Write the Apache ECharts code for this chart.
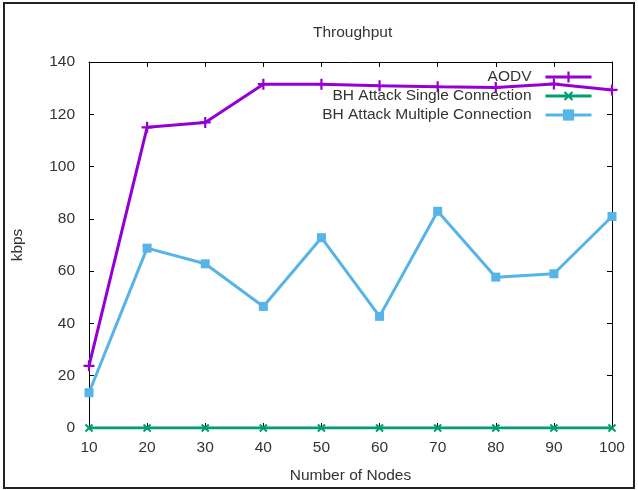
<!DOCTYPE html>
<html><head><meta charset="utf-8">
<script src="https://cdn.jsdelivr.net/npm/echarts@6/dist/echarts.min.js"></script>
<style>html,body{margin:0;padding:0;background:#fff}#c{width:638px;height:490px}</style>
</head><body><div id="c"></div>
<script>
const nodes = [10, 20, 30, 40, 50, 60, 70, 80, 90, 100];
const aodv = [23.8, 115, 116.9, 131.5, 131.5, 130.9, 130.5, 130.2, 131.6, 129.3];
const bhSingle = [0, 0, 0, 0, 0, 0, 0, 0, 0, 0];
const bhMultiple = [13.5, 68.8, 62.8, 46.5, 72.8, 42.7, 82.9, 57.7, 59.0, 80.9];
const seriesNames = ['AODV', 'BH Attack Single Connection', 'BH Attack Multiple Connection'];

const pair = arr => nodes.map((x, i) => [x, arr[i]]);
const plusPath = 'path://M4,0h2v4h4v2h-4v4h-2v-4h-4v-2h4z';
const font = 'Liberation Sans, Arial, sans-serif';
const txt = '#333';
const fs = 15.5;

const chart = echarts.init(document.getElementById('c'), null, {renderer: 'canvas'});
const axisCommon = {
  axisLine: {show: true, onZero: false, lineStyle: {color: '#000', width: 1}},
  axisTick: {show: true, inside: true, length: 5, lineStyle: {color: '#000'}},
  splitLine: {show: false}
};
chart.setOption({
  animation: false,
  backgroundColor: '#fff',
  title: {text: 'Throughput', left: 308, top: 20, textStyle: {fontFamily: font, fontSize: fs, fontWeight: 'normal', color: txt}},
  grid: {left: 89, right: 26, top: 62, bottom: 62},
  legend: {
    orient: 'vertical', right: 40, top: 63, itemGap: 1, itemWidth: 46, itemHeight: 14,
    align: 'right', data: seriesNames, lineStyle: {width: 3},
    textStyle: {fontFamily: font, fontSize: fs, color: txt, width: 240, align: 'right', padding: [0, 9, 0, 0], lineHeight: 18}
  },
  graphic: [{type: 'rect', shape: {x: 4, y: 3, width: 630, height: 485}, style: {fill: 'none', stroke: '#222', lineWidth: 2}, silent: true}],
  xAxis: [
    Object.assign({type: 'value', min: 10, max: 100, interval: 10, position: 'bottom',
      name: 'Number of Nodes', nameLocation: 'middle', nameGap: 40,
      nameTextStyle: {fontFamily: font, fontSize: fs, color: txt},
      axisLabel: {fontFamily: font, fontSize: fs, color: txt, margin: 12}}, axisCommon),
    Object.assign({type: 'value', min: 10, max: 100, interval: 10, position: 'top', axisLabel: {show: false}}, axisCommon)
  ],
  yAxis: [
    Object.assign({type: 'value', min: 0, max: 140, interval: 20, position: 'left',
      name: 'kbps', nameLocation: 'middle', nameGap: 63,
      nameTextStyle: {fontFamily: font, fontSize: fs, color: txt},
      axisLabel: {fontFamily: font, fontSize: fs, color: txt, margin: 14}}, axisCommon),
    Object.assign({type: 'value', min: 0, max: 140, interval: 20, position: 'right', axisLabel: {show: false}}, axisCommon)
  ],
  series: [
    {name: seriesNames[0], type: 'line', data: pair(aodv), color: '#9400d3',
      lineStyle: {width: 3}, symbol: plusPath, symbolSize: 11, showAllSymbol: true, z: 3},
    {name: seriesNames[1], type: 'line', data: pair(bhSingle), color: '#009e73',
      lineStyle: {width: 3}, symbol: plusPath, symbolRotate: 45, symbolSize: 10, showAllSymbol: true, z: 4},
    {name: seriesNames[2], type: 'line', data: pair(bhMultiple), color: '#56b4e9',
      lineStyle: {width: 3}, symbol: 'rect', symbolSize: 9, showAllSymbol: true, z: 2}
  ]
});
</script></body></html>
